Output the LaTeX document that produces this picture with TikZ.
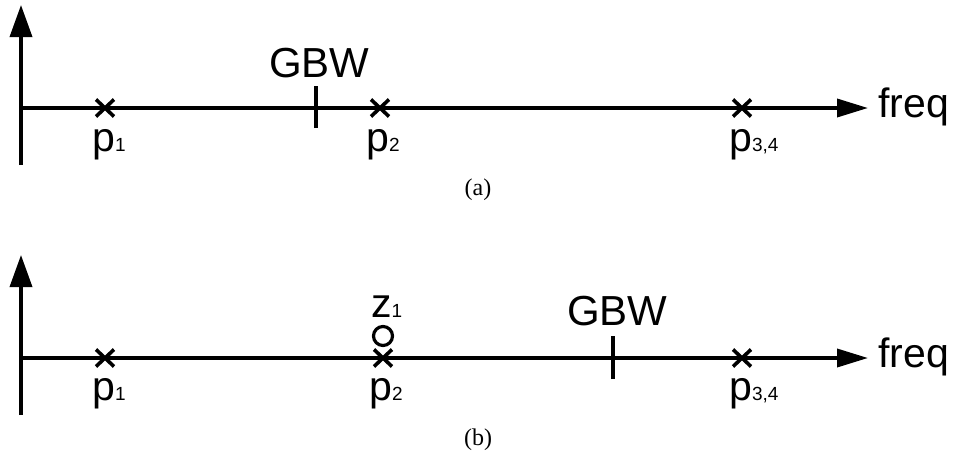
\documentclass[tikz,border=0pt]{standalone}
\usepackage{fontspec}
\setmainfont{Liberation Serif}
\newfontfamily\arial{Liberation Sans}
\usetikzlibrary{arrows.meta}
\tikzset{
  ax/.style={line width=3.6pt},
  varrow/.style={ax,-{Triangle[length=32pt,width=22pt]}},
  harrow/.style={ax,-{Triangle[length=31pt,width=18pt]}},
  lbl/.style={inner sep=0pt,anchor=base west,font=\arial},
  captext/.style={inner sep=0pt,anchor=base,font=\fontsize{24}{24}\selectfont},
}
\newcommand{\bigtxt}[1]{{\fontsize{41}{41}\selectfont #1}}
\newcommand{\smtxt}[1]{{\fontsize{19}{19}\selectfont #1}}
\newcommand{\gbwtxt}{{\fontsize{42}{42}\selectfont GBW}}
\begin{document}
\begin{tikzpicture}[x=1pt,y=-1pt]
\useasboundingbox (0,0) rectangle (955,461);
% ---------- (a) ----------
\coordinate (oa) at (21,108);
\coordinate (ta) at (21,5);
\coordinate (ba) at (21,165);
\coordinate (ea) at (868,108);
\draw[ax] (ba) -- (oa);
\draw[varrow] (oa) -- (ta);
\draw[harrow] (oa) -- (ea);
\foreach \n/\x in {p1a/105,p2a/380,p3a/742}{
  \coordinate (\n) at (\x,108);
  \draw[ax] ([shift={(-9,-8.5)}]\n) -- ([shift={(9,8.5)}]\n);
  \draw[ax] ([shift={(-9,8.5)}]\n) -- ([shift={(9,-8.5)}]\n);
}
\coordinate (ga) at (316,108);
\draw[ax] ([yshift=-20]ga) -- ([yshift=22]ga);
\node[lbl] (gta) at (269,77) {\gbwtxt};
\node[lbl] (l1a) at (92,151) {\bigtxt{p}\smtxt{1}};
\node[lbl] (l2a) at (366,151) {\bigtxt{p}\smtxt{2}};
\node[lbl] (l3a) at (729,151) {\bigtxt{p}\smtxt{3,4}};
\node[lbl] (fa) at (878,117) {\bigtxt{freq}};
\node[captext] (capa) at (478,195) {(a)};
% ---------- (b) ----------
\coordinate (ob) at (21,358);
\coordinate (tb) at (21,255);
\coordinate (bb) at (21,415);
\coordinate (eb) at (868,358);
\draw[ax] (bb) -- (ob);
\draw[varrow] (ob) -- (tb);
\draw[harrow] (ob) -- (eb);
\foreach \n/\x in {p1b/105,p2b/383,p3b/742}{
  \coordinate (\n) at (\x,358);
  \draw[ax] ([shift={(-9,-8.5)}]\n) -- ([shift={(9,8.5)}]\n);
  \draw[ax] ([shift={(-9,8.5)}]\n) -- ([shift={(9,-8.5)}]\n);
}
\node[draw,circle,line width=3.2pt,minimum size=19pt,inner sep=0pt] (z1) at (383,336) {};
\coordinate (gb) at (613,358);
\draw[ax] ([yshift=-21]gb) -- ([yshift=22]gb);
\node[lbl] (gtb) at (567,325) {\gbwtxt};
\node[lbl] (zl) at (371,317) {\bigtxt{z}\smtxt{1}};
\node[lbl] (l1b) at (92,400) {\bigtxt{p}\smtxt{1}};
\node[lbl] (l2b) at (369,400) {\bigtxt{p}\smtxt{2}};
\node[lbl] (l3b) at (729,400) {\bigtxt{p}\smtxt{3,4}};
\node[lbl] (fb) at (878,367) {\bigtxt{freq}};
\node[captext] (capb) at (478,445) {(b)};
\end{tikzpicture}
\end{document}
